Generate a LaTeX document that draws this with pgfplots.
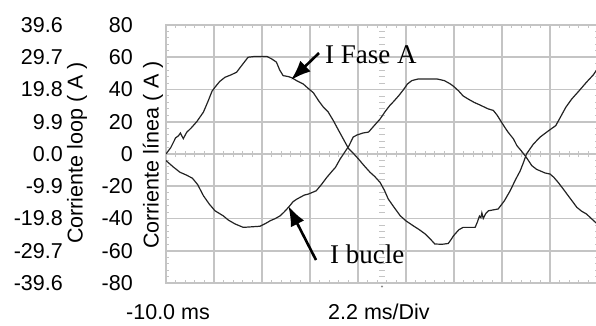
\documentclass[border=0pt]{standalone}
\usepackage{pgfplots}
\pgfplotsset{compat=1.18}
\usetikzlibrary{arrows.meta}
\usepackage{fontspec}
\setmainfont{Liberation Sans}
\newfontfamily\annfont{Liberation Serif}
\definecolor{gridgray}{RGB}{196,196,196}
\definecolor{trace}{RGB}{35,35,35}
\newcommand{\scopefont}{\fontsize{21.5}{22}\selectfont}

\begin{document}
\begin{tikzpicture}[x=1pt,y=1pt]
\useasboundingbox (0,0) rectangle (596,325);

% centre reference marks of the screen: ticks along the zero line and the vertical centre
\foreach \i in {1,...,44} {
  \draw[gridgray, line width=0.9pt] (166+\i*9.6,168) -- (166+\i*9.6,174);
}
\foreach \j in {1,...,39} {
  \draw[gridgray, line width=0.9pt] (379,42+\j*6.45) -- (385,42+\j*6.45);
}
\fill[gridgray!70!black] (382,38.5) circle (1.2pt);

% left scale: loop current
\begin{axis}[
  at={(166pt,42pt)}, anchor=south west,
  scale only axis, width=432pt, height=258pt,
  xmin=0, xmax=9, ymin=-39.6, ymax=39.6,
  hide x axis,
  axis y line*=left,
  y axis line style={draw=none},
  ytick={-39.6,-29.7,-19.8,-9.9,0,9.9,19.8,29.7,39.6},
  yticklabels={-39.6,-29.7,-19.8,-9.9,0.0,9.9,19.8,29.7,39.6},
  major tick length=0pt,
  yticklabel style={font=\scopefont, anchor=east, inner sep=0pt, xshift=-103pt},
]
\end{axis}

% main screen: line current scale and traces
\begin{axis}[
  at={(166pt,42pt)}, anchor=south west,
  scale only axis, width=432pt, height=258pt,
  xmin=0, xmax=9, ymin=-80, ymax=80,
  xtick={0,...,9}, xticklabels={},
  ytick={-80,-60,...,80},
  yticklabels={-80,-60,-40,-20,0,20,40,60,80},
  minor x tick num=4, minor y tick num=4,
  grid=major,
  major grid style={gridgray, line width=1.6pt},
  axis line style={gridgray, line width=1.6pt},
  tick style={gridgray, line width=0.9pt},
  major tick length=0pt, minor tick length=3pt,
  tick align=inside,
  yticklabel style={font=\scopefont, anchor=east, inner sep=0pt, xshift=-33pt},
]
% I Fase A
\addplot[trace, line width=1.2pt] coordinates {
(0,0) (0.1,4) (0.2,10) (0.26,11.3) (0.3,13) (0.36,9.5) (0.43,13.4) (0.52,16)
(0.64,20) (0.78,26) (0.88,33) (0.96,39) (1.02,41.4) (1.12,45) (1.23,47.6)
(1.35,49) (1.47,50.7) (1.58,55) (1.71,60) (1.85,60.5) (2.1,60.5) (2.2,59)
(2.3,57) (2.37,52) (2.44,48.6) (2.55,48) (2.62,47.3) (2.72,45.5) (2.86,43.4)
(2.95,41) (3.07,38) (3.18,33) (3.28,29) (3.38,26) (3.49,20.5) (3.58,15.5)
(3.69,9.5) (3.8,3.5) (3.9,0.5) (4.01,-3.1) (4.12,-7) (4.25,-11.3) (4.35,-14)
(4.46,-17.6) (4.55,-22.5) (4.63,-27.9) (4.75,-33) (4.88,-38.3) (5.0,-41.5)
(5.15,-44.5) (5.28,-47) (5.4,-49.6) (5.5,-52.5) (5.6,-55.8) (5.75,-56)
(5.88,-55.5) (5.94,-53) (5.99,-50.7) (6.1,-47) (6.19,-45.5) (6.44,-45.5)
(6.49,-42) (6.53,-38.5) (6.56,-39.5) (6.58,-36.5) (6.61,-40) (6.66,-37)
(6.72,-35.2) (6.92,-34.1) (7.05,-29) (7.17,-22.8) (7.28,-16) (7.38,-10.4)
(7.45,-5) (7.51,0) (7.65,6) (7.79,10.4) (7.95,14) (8.12,17.6) (8.22,23)
(8.33,29) (8.45,34) (8.6,39) (8.76,44.5) (8.9,49) (8.97,52)
};
% I bucle
\addplot[trace, line width=1.2pt] coordinates {
(0,-4.1) (0.15,-8) (0.29,-11.3) (0.42,-13) (0.55,-15) (0.66,-19) (0.78,-25.9)
(0.9,-31) (1.02,-35.2) (1.19,-38.3) (1.3,-41) (1.44,-43.4) (1.61,-45.5)
(1.96,-44.8) (2.08,-43) (2.17,-41.4) (2.28,-40) (2.38,-38.3) (2.46,-36)
(2.55,-33.1) (2.65,-29.5) (2.73,-27.9) (2.88,-25.5) (2.97,-24.8) (3.13,-22.8)
(3.25,-18.5) (3.35,-14.5) (3.45,-11) (3.53,-8.3) (3.63,-3) (3.72,1) (3.81,5)
(3.9,10.5) (3.98,11.8) (4.1,13) (4.22,13.6) (4.32,17) (4.46,21.7) (4.57,26.5)
(4.66,30) (4.74,32.5) (4.85,36.2) (4.95,40) (5.03,43.4) (5.12,45.5)
(5.25,46.5) (5.65,46.5) (5.8,45.5) (5.92,43.5) (5.99,42) (6.1,39) (6.19,36)
(6.3,34) (6.42,32) (6.54,30.4) (6.71,28) (6.82,27) (6.9,24) (6.99,19.7)
(7.07,16) (7.13,13.4) (7.24,9.3) (7.31,5.2) (7.4,2) (7.48,-1) (7.55,-4)
(7.62,-7.2) (7.72,-9.5) (7.79,-10.4) (7.9,-11.8) (8.0,-12.4) (8.08,-14.5)
(8.17,-17.6) (8.27,-21.5) (8.38,-25.9) (8.47,-29.5) (8.56,-33.1)
(8.66,-35.5) (8.76,-37.2) (8.86,-40) (8.97,-43)
};
\end{axis}

% axis titles
\node[rotate=90, font=\scopefont, inner sep=0pt] at (77,172) {Corriente loop ( A )};
\node[rotate=90, font=\scopefont, inner sep=0pt] at (153,170) {Corriente línea ( A )};

% time base
\node[font=\scopefont, anchor=base west, inner sep=0pt] at (126,5.5) {-10.0 ms};
\node[font=\scopefont, anchor=base west, inner sep=0pt] at (328,5.5) {2.2 ms/Div};

% trace annotations
\draw[line width=2.6pt, -{Latex[length=20pt,width=15pt]}] (319,272) -- (291,245);
\node[font=\annfont\fontsize{27}{27}\selectfont, anchor=base west, inner sep=0pt] at (325,262) {I Fase A};
\draw[line width=2.6pt, -{Latex[length=20pt,width=15pt]}] (316,65) -- (288.3,119);
\node[font=\annfont\fontsize{27}{27}\selectfont, anchor=base west, inner sep=0pt] at (330,62) {I bucle};
\end{tikzpicture}
\end{document}
